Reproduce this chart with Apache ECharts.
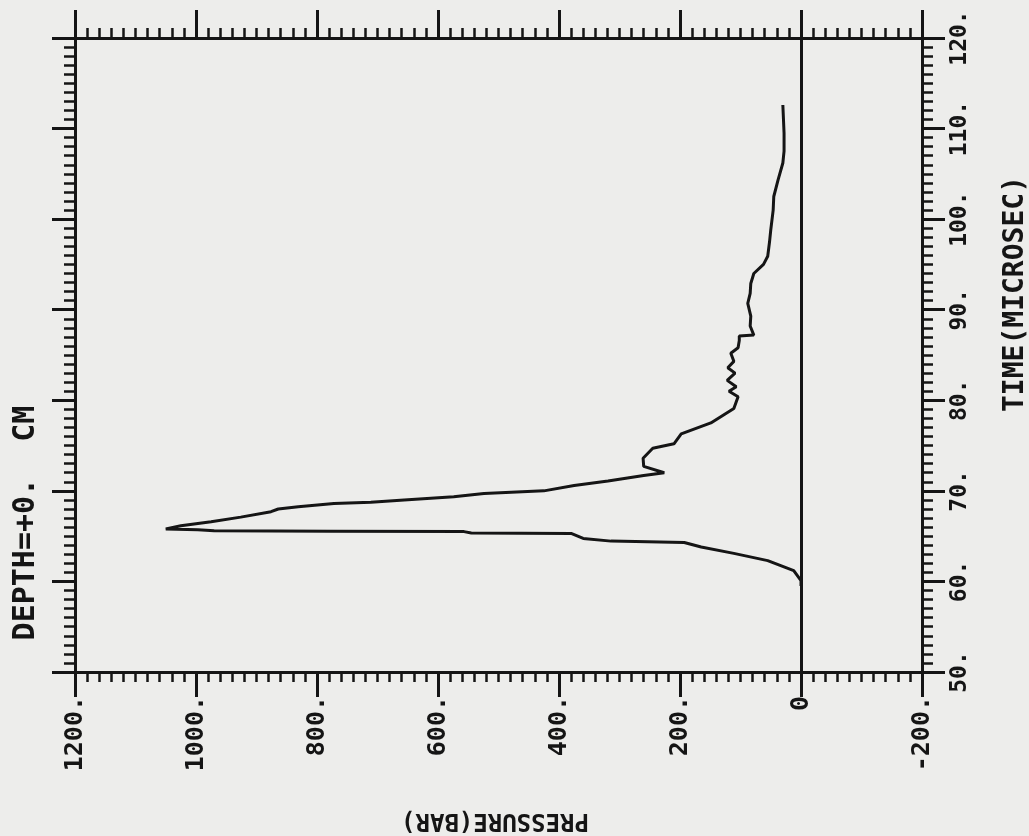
<!DOCTYPE html>
<html lang="en">

<head>
    <meta charset="UTF-8">
    <title>Depth +0 cm pressure trace</title>
    <script src="https://cdn.jsdelivr.net/npm/echarts@6/dist/echarts.min.js"></script>
    <style>
        html,
        body {
            margin: 0;
            padding: 0;
            background: #ededeb;
        }

        #chart {
            width: 1029px;
            height: 836px;
        }
    </style>
</head>

<body>
    <div id="chart"></div>
</body>
<script type="text/javascript">
    // time (microsec) and pressure (bar)
    var timeUs = [59.5, 60.1, 61.2, 62.3, 63.1, 63.8, 64.3, 64.45, 64.75, 65.3, 65.35, 65.5, 65.55, 65.6, 65.7, 65.8,
        66.15, 66.6, 67.1, 67.7, 68.0, 68.25, 68.6, 68.75, 69.0, 69.35, 69.7, 70.0, 70.6, 71.1, 71.7, 72.0,
        72.7, 73.6, 74.7, 75.2, 76.3, 77.5, 79.1, 80.4, 81.0, 81.5, 82.2, 83.0, 83.6, 84.3, 85.2, 85.8,
        86.6, 87.1, 87.2, 87.4, 88.2, 89.3, 90.7, 91.8, 92.9, 94.0, 95.0, 95.9, 97.5, 98.8, 101.0, 102.5,
        104.3, 106.2, 107.5, 109.5, 112.6];
    var pressureBar = [0, 0, 12, 55, 111, 165, 193, 314, 360, 380, 545, 557, 777, 970, 997, 1050,
        1025, 975, 926, 876, 864, 831, 772, 711, 656, 574, 524, 425, 375, 319, 260, 226,
        260, 261, 245, 210, 198, 149, 111, 104, 119, 107, 122, 109, 121, 111, 116, 104,
        102, 102, 78, 78, 84, 83, 88, 84, 83, 78, 62, 55, 52, 50, 46, 45,
        38, 30, 28, 28, 30];

    var pressureRange = [-200, 1200];
    var timeRange = [50, 120];

    var ink = '#151515';
    var monoFont = 'DejaVu Sans Mono';

    var points = timeUs.map(function (t, i) {
        return [pressureBar[i], t];
    });

    //刻度轴公共设置
    function frameAxis(pos, range, step, majorLen, minorLen) {
        return {
            type: 'value',
            position: pos,
            min: range[0],
            max: range[1],
            interval: step,
            axisLine: { show: true, onZero: false, lineStyle: { color: ink, width: 3 } },
            axisTick: { show: true, inside: false, length: majorLen, lineStyle: { color: ink, width: 3 } },
            minorTick: { show: true, splitNumber: 10, length: minorLen, lineStyle: { color: ink, width: 2.5 } },
            splitLine: { show: false },
            minorSplitLine: { show: false },
            axisLabel: { show: false }
        };
    }

    var xBottom = frameAxis('bottom', pressureRange, 200, 25, 10);
    xBottom.inverse = true;
    xBottom.axisLabel = {
        show: true,
        rotate: 90,
        margin: 24,
        showMinLabel: true,
        showMaxLabel: true,
        color: ink,
        fontFamily: monoFont,
        fontWeight: 'bold',
        fontSize: 25,
        formatter: function (v) {
            return v === 0 ? '0' : v + '.';
        }
    };

    var xTop = frameAxis('top', pressureRange, 200, 28, 10);
    xTop.inverse = true;

    var yRight = frameAxis('right', timeRange, 10, 23, 11);
    yRight.axisLabel = {
        show: true,
        rotate: 90,
        margin: 27,
        showMinLabel: true,
        showMaxLabel: true,
        color: ink,
        fontFamily: monoFont,
        fontWeight: 'bold',
        fontSize: 23,
        formatter: function (v) {
            return v + '.';
        }
    };

    var yLeft = frameAxis('left', timeRange, 10, 23, 11);

    var option = {
        backgroundColor: '#ededeb',
        animation: false,
        grid: {
            left: 75,
            right: 107,
            top: 38,
            bottom: 164
        },
        xAxis: [xBottom, xTop],
        yAxis: [yRight, yLeft],
        graphic: [{
            type: 'text',
            x: 26,
            y: 523,
            rotation: Math.PI / 2,
            style: {
                text: 'DEPTH=+0.  CM',
                fill: ink,
                font: 'bold 30px "DejaVu Sans Mono"',
                align: 'center',
                verticalAlign: 'middle'
            }
        }, {
            type: 'text',
            x: 1016,
            y: 294,
            rotation: Math.PI / 2,
            style: {
                text: 'TIME(MICROSEC)',
                fill: ink,
                font: 'bold 28px "DejaVu Sans Mono"',
                align: 'center',
                verticalAlign: 'middle'
            }
        }, {
            type: 'text',
            x: 495,
            y: 820,
            rotation: Math.PI,
            style: {
                text: 'PRESSURE(BAR)',
                fill: ink,
                font: 'bold 24px "DejaVu Sans Mono"',
                align: 'center',
                verticalAlign: 'middle'
            }
        }],
        series: [{
            type: 'line',
            xAxisIndex: 0,
            yAxisIndex: 0,
            data: points,
            showSymbol: false,
            symbol: 'none',
            lineStyle: { color: ink, width: 3 },
            silent: true,
            markLine: {
                silent: true,
                symbol: 'none',
                label: { show: false },
                lineStyle: { color: ink, width: 3, type: 'solid' },
                data: [{ xAxis: 0 }]
            }
        }]
    };

    //初始化echarts实例
    var myChart = echarts.init(document.getElementById('chart'));
    myChart.setOption(option);
</script>

</html>
